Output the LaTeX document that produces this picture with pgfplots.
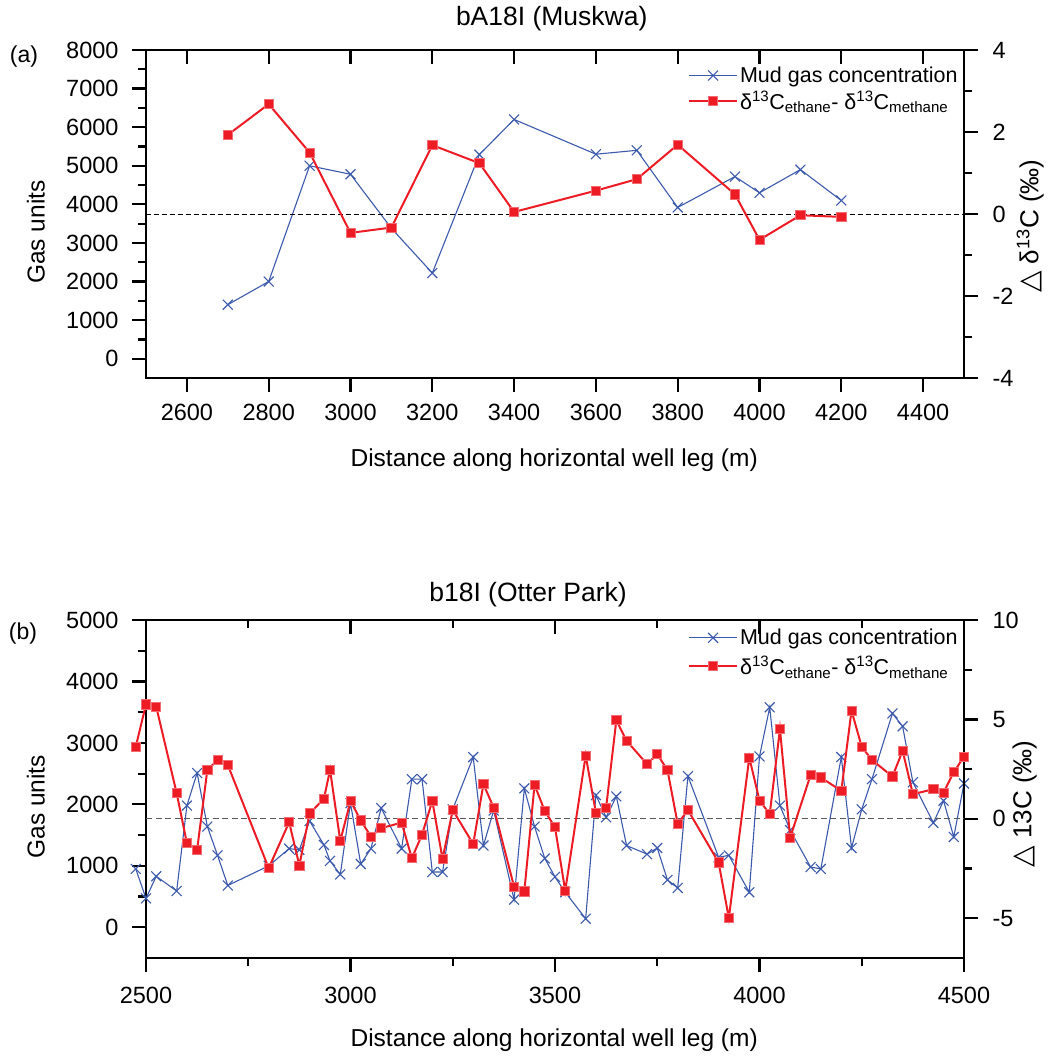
\documentclass[border=0pt]{standalone}
\usepackage{pgfplots}
\pgfplotsset{compat=1.18}
\usepackage{fontspec}
\setmainfont{Liberation Sans}
\newfontfamily\dejavu{DejaVu Sans}
\definecolor{myred}{RGB}{237,28,36}
\definecolor{myblue}{RGB}{60,90,172}
\newcommand{\tickfont}{\fontsize{23.5}{26}\selectfont}
\newcommand{\labfont}{\fontsize{24.5}{28}\selectfont}
\newcommand{\legfont}{\fontsize{21.5}{24}\selectfont}
\newcommand{\titfont}{\fontsize{26.5}{30}\selectfont}

\pgfplotsset{
  base/.style={
    scale only axis, width=818pt,
    xmin=2500, xmax=4500,
    axis line style={line width=2.2pt, black},
    major tick style={line width=2.2pt, black},
    minor tick style={line width=2.2pt, black},
    major tick length=14pt, minor tick length=8pt,
    tick label style={font=\tickfont},
    /pgf/number format/assume math mode=true,
    /pgf/number format/set thousands separator={},
    label style={font=\labfont},
  },
  bluestyle/.style={myblue, line width=1.1pt, mark=x, mark size=7pt, mark options={line width=1.1pt}},
  redstyle/.style={myred, line width=2pt, mark=square*, mark size=4.6pt, mark options={fill=myred, draw=myred!65!white, line width=0.8pt}},
  legend image code/.code={\draw[mark repeat=2,mark phase=2,#1] plot coordinates {(0pt,0pt) (24pt,0pt) (48pt,0pt)};},
}

\begin{document}
\begin{tikzpicture}
\useasboundingbox (0pt,0pt) rectangle (1054pt,-1061pt);

% ---------------- Panel (a) ----------------
\node[font=\fontsize{23}{26}\selectfont] at (24pt,-57pt) {(a)};
\begin{axis}[base, at={(146pt,-378pt)}, anchor=south west, height=328pt,
  ymin=-500, ymax=8000,
  ytick={0,1000,...,8000}, minor y tick num=1,
  xtick={2600,2800,...,4400},
  xtick pos=left, ytick pos=left, tick align=outside,
  yticklabel shift=10pt, xticklabel shift=9pt,
  xlabel={Distance along horizontal well leg (m)},
  ylabel={Gas units},
  xlabel style={at={(axis description cs:0.499,-0.25)}, anchor=center},
  ylabel style={at={(axis description cs:-0.1345,0.445)}, anchor=center},
  title={bA18I (Muskwa)},
  title style={at={(axis description cs:0.496,1.078)}, anchor=center, font=\titfont},
]
\addplot[bluestyle] coordinates {
(2700,1400) (2800,2000) (2900,5000) (3000,4780) (3100,3380) (3200,2220)
(3315,5290) (3400,6200) (3600,5300) (3700,5400) (3800,3920) (3940,4720)
(4000,4300) (4100,4900) (4200,4100)};
\end{axis}
\begin{axis}[base, at={(146pt,-378pt)}, anchor=south west, height=328pt,
  ymin=-4, ymax=4, ytick={-4,-2,...,4}, minor y tick num=1,
  axis y line*=right, axis x line=none, tick align=outside,
  yticklabel shift=11pt,
  ylabel={{\dejavu\fontsize{28}{30}\selectfont △} δ\textsuperscript{13}C (‰)},
  ylabel style={at={(axis description cs:1.081,0.463)}, anchor=center, font=\fontsize{26}{29}\selectfont},
  legend style={at={(axis description cs:0.660,0.961)}, anchor=north west, draw=none, fill=none, font=\legfont, row sep=3pt, inner sep=2pt},
  legend cell align=left,
]
\addlegendimage{bluestyle}
\addlegendentry{Mud gas concentration}
\addplot[black, line width=1pt, dash pattern=on 5pt off 3pt, forget plot] coordinates {(2500,0) (4500,0)};
\addplot[redstyle] coordinates {
(2700,1.93) (2800,2.68) (2900,1.50) (3000,-0.46) (3100,-0.33) (3200,1.68)
(3315,1.24) (3400,0.05) (3600,0.57) (3700,0.85) (3800,1.69) (3940,0.48)
(4000,-0.63) (4100,-0.03) (4200,-0.07)};
\addlegendentry{δ\textsuperscript{13}C\textsubscript{ethane}- δ\textsuperscript{13}C\textsubscript{methane}}
\end{axis}
\begin{axis}[base, at={(146pt,-378pt)}, anchor=south west, height=328pt,
  ymin=0, ymax=1, hide y axis,
  xtick={2600,2800,...,4400}, xtick pos=right, tick align=inside, xticklabel=\empty,
]
\end{axis}

% ---------------- Panel (b) ----------------
\node[font=\fontsize{23}{26}\selectfont] at (23pt,-634pt) {(b)};
\begin{axis}[base, at={(146pt,-958pt)}, anchor=south west, height=338pt,
  ymin=-500, ymax=5000,
  ytick={0,1000,...,5000}, minor y tick num=1,
  xtick={2500,3000,...,4500}, minor x tick num=1,
  xtick pos=left, ytick pos=left, tick align=outside, clip=false,
  yticklabel shift=10pt, xticklabel shift=12pt,
  xlabel={Distance along horizontal well leg (m)},
  ylabel={Gas units},
  xlabel style={at={(axis description cs:0.499,-0.243)}, anchor=center},
  ylabel style={at={(axis description cs:-0.1345,0.447)}, anchor=center},
  title={b18I (Otter Park)},
  title style={at={(axis description cs:0.467,1.056)}, anchor=center, font=\titfont},
]
\addplot[bluestyle] coordinates {
(2475,950) (2500,470) (2525,830) (2575,590) (2600,1980) (2625,2510)
(2650,1640) (2675,1170) (2700,680) (2800,1000) (2850,1280) (2875,1260)
(2900,1730) (2935,1340) (2950,1080) (2975,860) (3000,2020) (3025,1030)
(3050,1280) (3075,1940) (3125,1280) (3150,2410) (3175,2410) (3200,900)
(3225,900) (3250,1920) (3300,2770) (3325,1330) (3350,1900) (3400,450)
(3425,2260) (3450,1640) (3475,1120) (3500,820) (3525,570) (3575,140)
(3600,2150) (3625,1790) (3650,2130) (3675,1330) (3725,1190) (3750,1290)
(3775,770) (3800,640) (3825,2460) (3900,1140) (3925,1170) (3975,570)
(4000,2780) (4025,3580) (4050,1980) (4075,1580) (4125,980) (4150,950)
(4200,2770) (4225,1290) (4250,1920) (4275,2410) (4325,3480) (4350,3270)
(4375,2360) (4425,1700) (4450,2060) (4475,1470) (4500,2340)};
\end{axis}
\begin{axis}[base, at={(146pt,-958pt)}, anchor=south west, height=338pt,
  ymin=-7, ymax=10, ytick={-5,0,5,10}, minor y tick num=1,
  axis y line*=right, axis x line=none, tick align=outside, clip=false,
  yticklabel shift=11pt,
  ylabel={{\dejavu\fontsize{28}{30}\selectfont △} 13C (‰)},
  ylabel style={at={(axis description cs:1.074,0.456)}, anchor=center, font=\fontsize{26}{29}\selectfont},
  legend style={at={(axis description cs:0.660,0.985)}, anchor=north west, draw=none, fill=none, font=\legfont, row sep=6pt, inner sep=2pt},
  legend cell align=left,
]
\addlegendimage{bluestyle}
\addlegendentry{Mud gas concentration}
\addplot[black!65, line width=1.2pt, dash pattern=on 6pt off 3.5pt, forget plot] coordinates {(2500,0) (4500,0)};
\addplot[redstyle] coordinates {
(2475,3.63) (2500,5.76) (2525,5.64) (2575,1.29) (2600,-1.22) (2625,-1.56)
(2650,2.46) (2675,2.96) (2700,2.71) (2800,-2.48) (2850,-0.17) (2875,-2.35)
(2900,0.27) (2935,1.01) (2950,2.46) (2975,-1.11) (3000,0.90) (3025,-0.08)
(3050,-0.89) (3075,-0.47) (3125,-0.19) (3150,-1.98) (3175,-0.79) (3200,0.90)
(3225,-2.01) (3250,0.44) (3300,-1.27) (3325,1.74) (3350,0.57) (3400,-3.42)
(3425,-3.65) (3450,1.71) (3475,0.39) (3500,-0.42) (3525,-3.62) (3575,3.18)
(3600,0.30) (3625,0.57) (3650,4.96) (3675,3.93) (3725,2.75) (3750,3.25)
(3775,2.45) (3800,-0.25) (3825,0.44) (3900,-2.19) (3925,-4.99) (3975,3.08)
(4000,0.92) (4025,0.24) (4050,4.51) (4075,-0.94) (4125,2.21) (4150,2.08)
(4200,1.41) (4225,5.44) (4250,3.62) (4275,2.96) (4325,2.13) (4350,3.42)
(4375,1.24) (4425,1.49) (4450,1.32) (4475,2.35) (4500,3.13)};
\addlegendentry{δ\textsuperscript{13}C\textsubscript{ethane}- δ\textsuperscript{13}C\textsubscript{methane}}
\end{axis}
\begin{axis}[base, at={(146pt,-958pt)}, anchor=south west, height=338pt,
  ymin=0, ymax=1, hide y axis,
  xtick={2500,3000,...,4500}, minor x tick num=1, xtick pos=right, tick align=inside, xticklabel=\empty,
]
\end{axis}
\end{tikzpicture}
\end{document}
